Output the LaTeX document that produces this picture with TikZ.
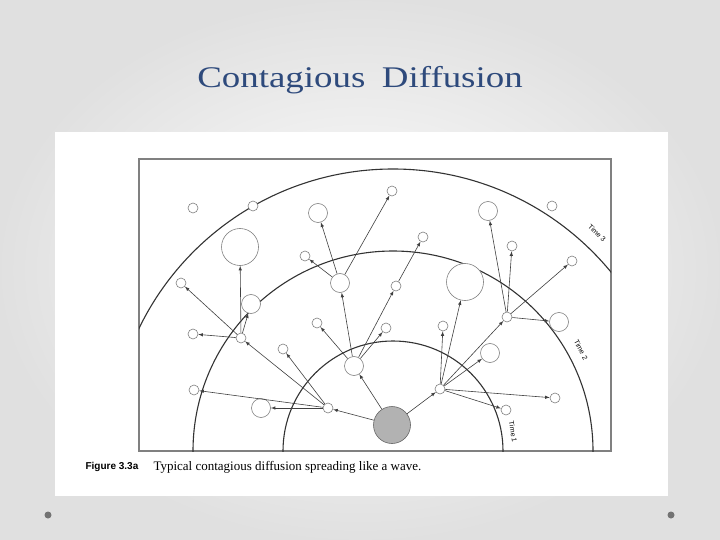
\documentclass[tikz,border=0pt]{standalone}
\usepackage{fontspec}
\setmainfont{Liberation Serif}
\setsansfont{Liberation Sans}
\usetikzlibrary{arrows}
\definecolor{slideblue}{RGB}{46,74,124}
\definecolor{seedgray}{RGB}{178,178,178}

\begin{document}
\begin{tikzpicture}[x=1pt, y=-1pt, >=latex,
  sdot/.style={circle, draw=gray, fill=white, line width=0.6pt, inner sep=0pt, minimum size=10pt},
  mdot/.style={sdot, minimum size=19pt},
  ldot/.style={sdot, minimum size=37pt},
  wave/.style={line width=1.1pt, black!80},
  spread/.style={->, line width=0.6pt, black!75},
  tlabel/.style={font=\sffamily\fontsize{7}{8}\selectfont, inner sep=0pt}]
  \useasboundingbox (0,0) rectangle (720,540);
  \shade[inner color=white, outer color=black!12] (0,0) rectangle (720,540);
  \fill[white] (55,132) rectangle (668,496);
  \node[font=\fontsize{30}{36}\selectfont, text=slideblue] (title) at (360,80)
    {\scalebox{1.23}[1]{Contagious\hspace{0.45em}Diffusion}};

  % the three waves
  \draw[gray, line width=1.2pt] (139,159) rectangle (611,451);
  \begin{scope}
    \clip (139,159) rectangle (611,451);
    \draw[wave] (393,451) circle[radius=110];
    \draw[wave] (393,451) circle[radius=200];
    \draw[wave] (393,451) circle[radius=282];
  \end{scope}
  \node[tlabel, rotate=-81] (t1) at (513,432) {Time 1};
  \node[tlabel, rotate=-62] (t2) at (581,350) {Time 2};
  \node[tlabel, rotate=-43] (t3) at (597,233) {Time 3};

  % source and first contacts
  \node[ldot, fill=seedgray, draw=gray!80!black] (src) at (392,425) {};
  \node[mdot] (a1) at (354,366) {};
  \node[sdot] (a2) at (328,408) {};
  \node[sdot] (a3) at (440,389) {};
  % second contacts
  \node[mdot] (b1) at (340,283) {};
  \node[sdot] (b2) at (396,286) {};
  \node[sdot] (b3) at (317,323) {};
  \node[sdot] (b4) at (386,328) {};
  \node[sdot] (b5) at (241,338) {};
  \node[sdot] (b6) at (283,349) {};
  \node[sdot] (b7) at (194,390) {};
  \node[mdot] (b8) at (261,408) {};
  \node[sdot] (b9) at (443,326) {};
  \node[ldot] (b10) at (465,282) {};
  \node[sdot] (b11) at (507,317) {};
  \node[mdot] (b12) at (490,353) {};
  \node[sdot] (b13) at (555,398) {};
  \node[sdot] (b14) at (506,410) {};
  % third contacts
  \node[mdot] (c1) at (318,213) {};
  \node[sdot] (c2) at (305,256) {};
  \node[sdot] (c3) at (392,191) {};
  \node[sdot] (c4) at (423,237) {};
  \node[ldot] (c5) at (240,247) {};
  \node[sdot] (c6) at (181,283) {};
  \node[mdot] (c7) at (251,304) {};
  \node[sdot] (c8) at (193,334) {};
  \node[mdot] (c9) at (488,211) {};
  \node[sdot] (c10) at (512,246) {};
  \node[sdot] (c11) at (572,261) {};
  \node[mdot] (c12) at (559,322) {};
  % not reached
  \node[sdot] (d1) at (193,208) {};
  \node[sdot] (d2) at (253,206) {};
  \node[sdot] (d3) at (552,206) {};

  \path[spread]
  (src) edge (a1) edge (a2) edge (a3)
  (a1) edge (b1) edge (b2) edge (b3) edge (b4)
  (a2) edge (b5) edge (b6) edge (b7) edge (b8)
  (a3) edge (b9) edge (b10) edge (b11) edge (b12) edge (b13) edge (b14)
  (b1) edge (c1) edge (c2) edge (c3)
  (b2) edge (c4)
  (b5) edge (c5) edge (c6) edge (c7) edge (c8)
  (b11) edge (c9) edge (c10) edge (c11) edge (c12)
  ;

  \node[anchor=west, font=\sffamily\bfseries\fontsize{10}{12}\selectfont] (fig) at (82,467) {Figure 3.3a};
  \node[anchor=west, font=\fontsize{13}{15}\selectfont] (cap) at (150,467) {Typical contagious diffusion spreading like a wave.};
  \node[circle, fill=black!55, inner sep=0pt, minimum size=7pt] (dl) at (48,515) {};
  \node[circle, fill=black!55, inner sep=0pt, minimum size=7pt] (dr) at (671,515) {};
\end{tikzpicture}
\end{document}
